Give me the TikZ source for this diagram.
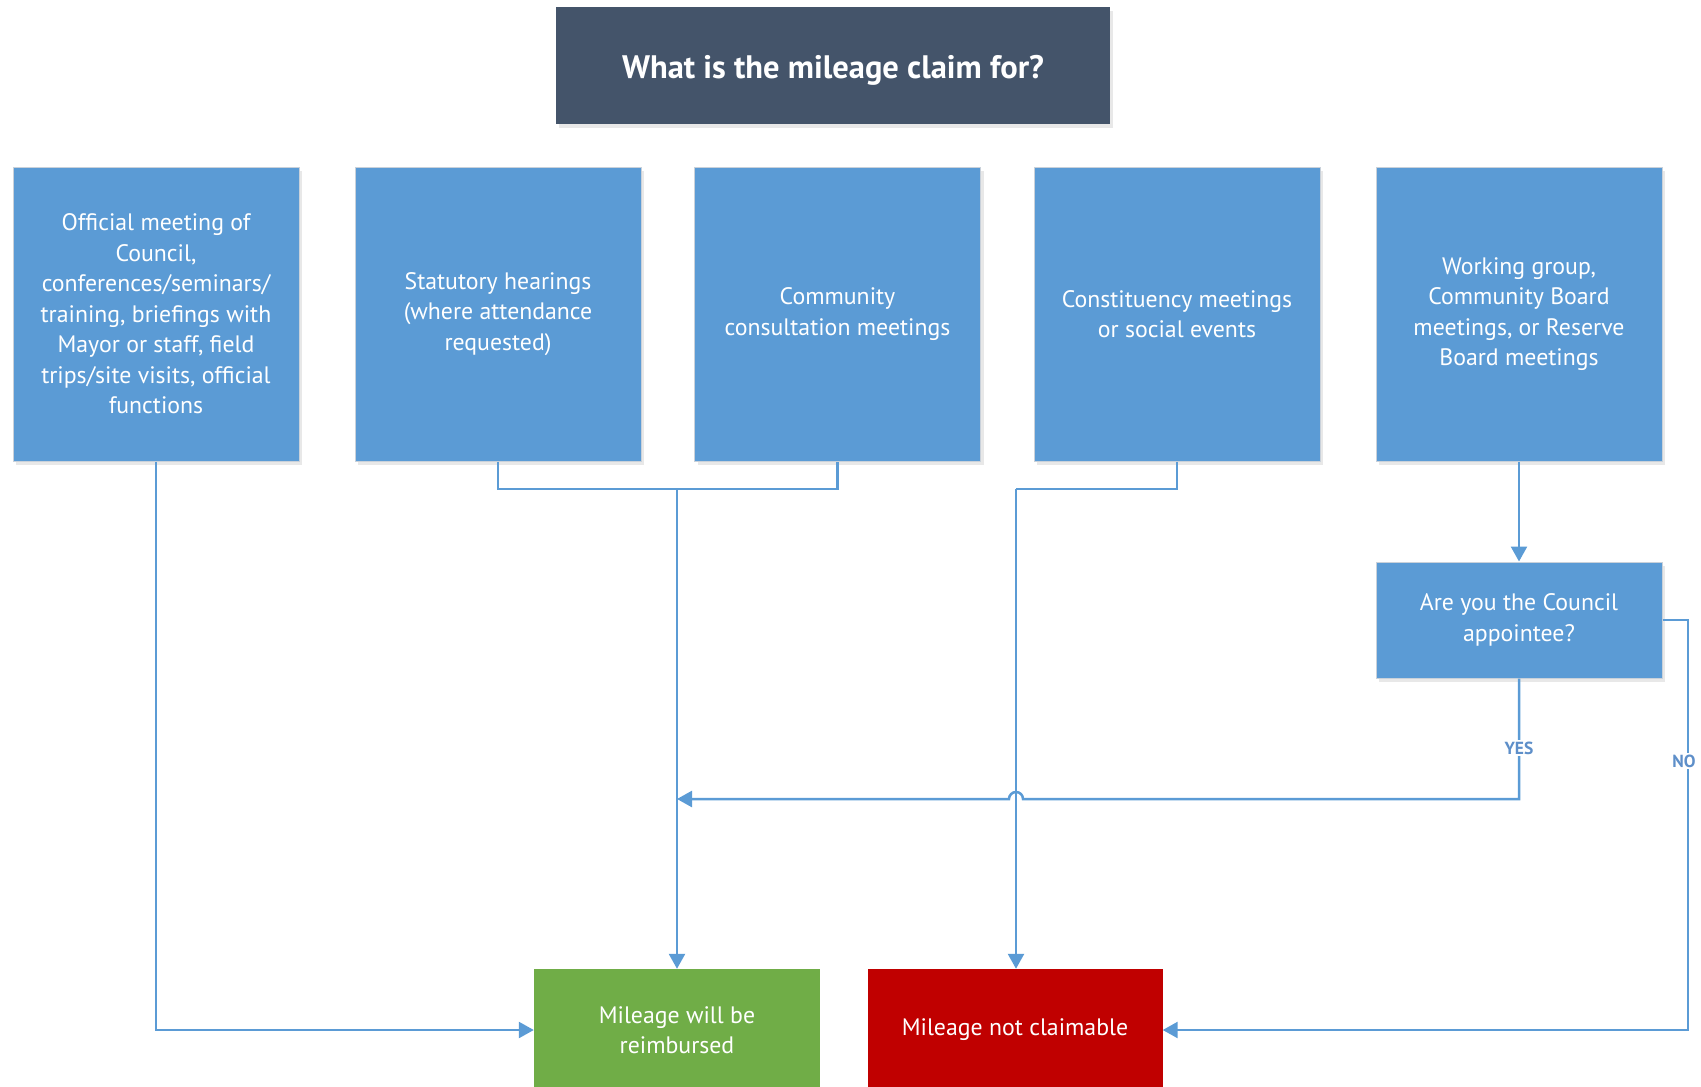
\documentclass[tikz,border=0pt]{standalone}
\usepackage{fontspec}
\setmainfont{PT Sans}
\usetikzlibrary{shadows,arrows.meta}
\definecolor{boxblue}{HTML}{5B9BD5}
\definecolor{lineblue}{HTML}{5B9BD5}
\definecolor{boxborder}{HTML}{C9D1DA}
\definecolor{titlefill}{HTML}{44546A}
\definecolor{greenfill}{HTML}{70AD47}
\definecolor{redfill}{HTML}{C00000}
\definecolor{lblblue}{HTML}{5E8FC9}
\begin{document}
\begin{tikzpicture}[x=1pt,y=-1pt,
  shad/.style={drop shadow={opacity=0.18,shadow xshift=3pt,shadow yshift=-4pt}},
  box/.style={draw=boxborder,line width=1pt,fill=boxblue,text=white,
    minimum width=286pt,minimum height=294pt,align=center,inner sep=0pt,
    font=\fontsize{23.8}{30.5}\selectfont,shad},
  endbox/.style={draw=none,text=white,minimum height=122pt,align=center,
    inner sep=0pt,font=\fontsize{23.8}{30.5}\selectfont},
  conn/.style={draw=lineblue,line width=2.5pt},
  arr/.style={conn,-{Triangle[length=15pt,width=16pt]}},
  lbl/.style={fill=white,text=lblblue,inner sep=2pt,font=\fontsize{17.5}{18}\bfseries\selectfont}]
\useasboundingbox (0,0) rectangle (1701,1087);
\clip (0,0) rectangle (1701,1087);

\node[fill=titlefill,text=white,minimum width=554pt,minimum height=117pt,inner sep=0pt,
  text height=30pt,text depth=4pt,
  font=\fontsize{32.5}{38}\bfseries\selectfont,shad] (title) at (833,65) {What is the mileage claim for?};

\node[box] (b1) at (156,314) {Official meeting of\\Council,\\conferences/seminars/\\training, briefings with\\Mayor or staff, field\\trips/site visits, official\\functions};
\node[box] (b2) at (498,314) {Statutory hearings\\(where attendance\\requested)};
\node[box] (b3) at (837.5,314) {Community\\consultation meetings};
\node[box] (b4) at (1177,314) {Constituency meetings\\or social events};
\node[box] (b5) at (1519,314) {Working group,\\Community Board\\meetings, or Reserve\\Board meetings};
\node[box,minimum height=116pt] (dec) at (1519,620) {Are you the Council\\appointee?};

\node[endbox,fill=greenfill,minimum width=286pt] (yes) at (677,1030) {Mileage will be\\reimbursed};
\node[endbox,fill=redfill,minimum width=295pt] (no) at (1015,1030) {Mileage not claimable};

\coordinate (j23) at (677,489);
\coordinate (j4) at (1016,489);
\coordinate (yl) at (1519,799);
\coordinate (nr) at (1688,620);

% box 1 -> reimbursed
\draw[arr] (b1.south) |- (yes.west);
% boxes 2,3 -> reimbursed
\draw[conn] (b2.south) |- (j23) -| (b3.south);
\draw[arr] (j23) -- (j23 |- yes.north);
% box 4 -> not claimable
\draw[conn] (b4.south) |- (j4);
\draw[arr] (j4) -- (j4 |- no.north);
% box 5 -> decision
\draw[arr] (b5.south) -- (dec.north);
% YES
\draw[arr] (dec.south) -- (yl) -- (1023,799) arc (0:-180:7) -- (677,799);
\node[lbl] at (1519,748) {YES};
% NO
\draw[arr] (dec.east) -- (nr) |- (no.east);
\node[lbl] at (1684,761) {NO};
\end{tikzpicture}
\end{document}
